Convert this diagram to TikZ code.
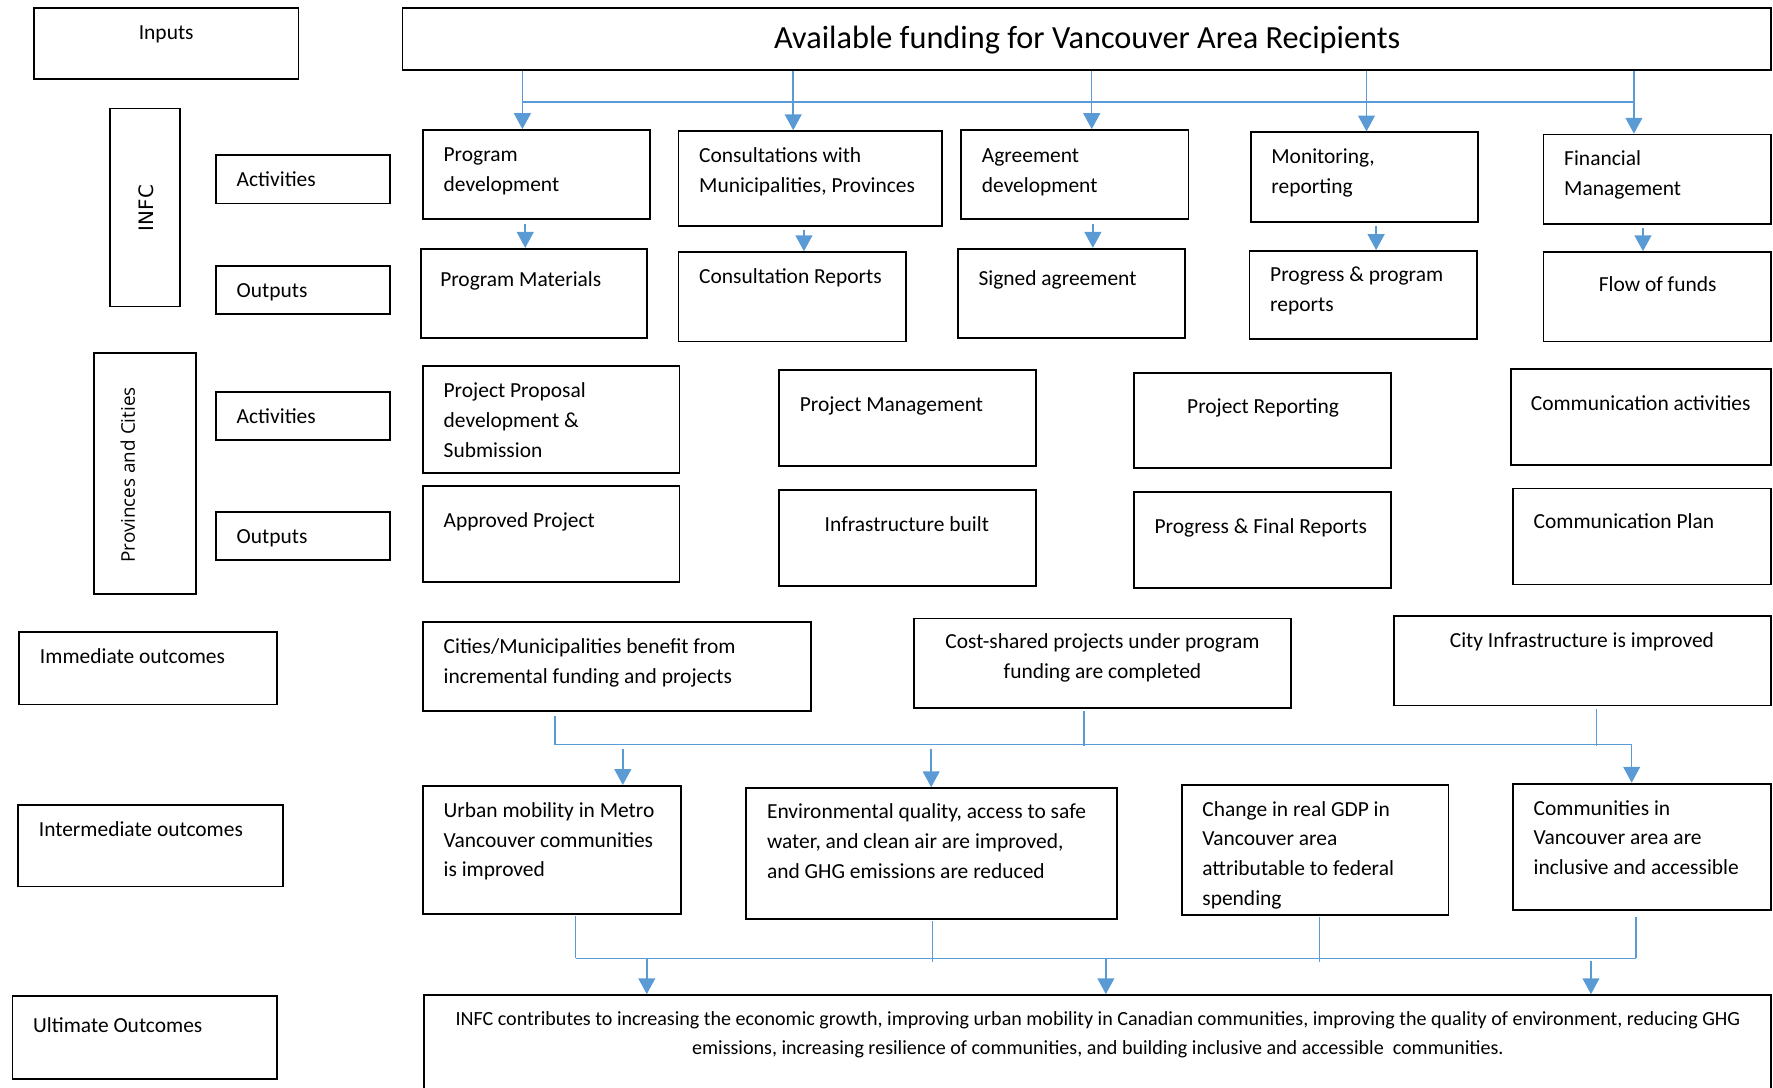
\documentclass[tikz,border=0pt]{standalone}
\usepackage{fontspec}
\setmainfont{Carlito}
\newfontfamily\verdfont{DejaVu Sans}
\newfontfamily\osfont{Open Sans}
\usetikzlibrary{arrows.meta,fit,calc}
\definecolor{blueC}{RGB}{91,155,213}
\begin{document}
\begin{tikzpicture}[x=0.02cm,y=-0.02cm,
  box/.style={draw=black,line width=0.9pt,inner sep=0pt},
  txt/.style={inner sep=0pt,font=\fontsize{10.8}{15}\selectfont,align=left,anchor=north west},
  ctxt/.style={txt,align=center,anchor=north},
  conn/.style={draw=blueC,line width=0.75pt},
  arr/.style={conn,-{Triangle[width=8.5pt,length=8pt]}}]
\useasboundingbox (0,0) rectangle (1568,962);
\newcommand\mybox[3]{\node[box,fit={(#2) (#3)}] (#1) {};}
% left column
\mybox{inp}{30,7}{264,70}
\mybox{infc}{97,96}{159,271}
\mybox{act1}{191,137}{345,180}
\mybox{out1}{191,235}{345,278}
\mybox{prov}{83,312}{173,525}
\mybox{act2}{191,347}{345,389}
\mybox{out2}{191,453}{345,495}
\mybox{imm}{17,559}{245,623}
\mybox{intm}{16,712}{250,784}
\mybox{ulo}{11,881}{245,954}
\node[ctxt] (inpT) at (147,16) {\strut Inputs};
\node[rotate=90,inner sep=0pt,font=\verdfont\fontsize{10}{12}\selectfont] (infcT) at (129,184) {INFC};
\node[txt] (act1T) at (209,146) {\strut Activities};
\node[txt] (out1T) at (209,244) {\strut Outputs};
\node[rotate=90,inner sep=0pt,font=\osfont\fontsize{9.5}{11}\selectfont] (provT) at (113,420) {Provinces and Cities};
\node[txt] (act2T) at (209,356) {\strut Activities};
\node[txt] (out2T) at (209,462) {\strut Outputs};
\node[txt] (immT) at (35,568) {\strut Immediate outcomes};
\node[txt] (intmT) at (34,721) {\strut Intermediate outcomes};
\node[txt] (uloT) at (29,894) {\strut Ultimate Outcomes};
% title
\mybox{title}{356,7}{1566,62}
\node[inner sep=0pt,anchor=base,font=\fontsize{16.25}{19}\selectfont] (titleT) at (961.5,43) {Available funding for Vancouver Area Recipients};
% INFC activities
\mybox{pd}{374,115}{575,194}
\mybox{cons}{600,116}{833,200}
\mybox{agr}{850,115}{1051,194}
\mybox{mon}{1106,117}{1307,196}
\mybox{fin}{1365,119}{1566,198}
\node[txt] (pdT) at (392,124) {\strut Program\\development};
\node[txt] (consT) at (618,125) {\strut Consultations with\\Municipalities, Provinces};
\node[txt] (agrT) at (868,125) {\strut Agreement\\development};
\node[txt] (monT) at (1124,126) {\strut Monitoring,\\reporting};
\node[txt] (finT) at (1383,128) {\strut Financial\\Management};
% INFC outputs
\mybox{pm}{372,220}{572,299}
\mybox{cr}{600,223}{801,302}
\mybox{sa}{847,220}{1048,299}
\mybox{ppr}{1105,222}{1306,300}
\mybox{ff}{1365,223}{1566,302}
\node[txt] (pmT) at (389,235) {\strut Program Materials};
\node[txt] (crT) at (618,232) {\strut Consultation Reports};
\node[txt] (saT) at (865,234) {\strut Signed agreement};
\node[txt] (pprT) at (1123,230) {\strut Progress \& program\\reports};
\node[ctxt] (ffT) at (1466,239) {\strut Flow of funds};
% Provinces activities
\mybox{ppd}{374,324}{601,418}
\mybox{pmg}{689,327}{916,412}
\mybox{prp}{1003,330}{1230,414}
\mybox{ca}{1336,326}{1566,411}
\node[txt] (ppdT) at (392,333) {\strut Project Proposal\\development \&\\Submission};
\node[txt] (pmgT) at (707,345) {\strut Project Management};
\node[ctxt] (prpT) at (1117,347) {\strut Project Reporting};
\node[ctxt] (caT) at (1451,344) {\strut Communication activities};
% Provinces outputs
\mybox{ap}{374,430}{601,515}
\mybox{ib}{689,433}{916,518}
\mybox{pfr}{1003,435}{1230,520}
\mybox{cp}{1338,432}{1566,517}
\node[txt] (apT) at (392,448) {\strut Approved Project};
\node[ctxt] (ibT) at (802,451) {\strut Infrastructure built};
\node[ctxt] (pfrT) at (1115,453) {\strut Progress \& Final Reports};
\node[txt] (cpT) at (1356,449) {\strut Communication Plan};
% Immediate outcomes
\mybox{cit}{374,550}{717,629}
\mybox{cost}{808,547}{1142,626}
\mybox{city}{1233,545}{1566,624}
\node[txt] (citT) at (392,559) {\strut Cities/Municipalities benefit from\\incremental funding and projects};
\node[ctxt] (costT) at (975,555) {\strut Cost-shared projects under program\\funding are completed};
\node[ctxt] (cityT) at (1399,554) {\strut City Infrastructure is improved};
% Intermediate outcomes
\mybox{urb}{374,695}{602,808}
\mybox{env}{660,697}{988,813}
\mybox{gdp}{1045,694}{1281,809}
\mybox{com}{1338,693}{1566,805}
\node[txt] (urbT) at (392,704) {\strut Urban mobility in Metro\\Vancouver communities\\is improved};
\node[txt] (envT) at (678,705) {\strut Environmental quality, access to safe\\water, and clean air are improved,\\and GHG emissions are reduced};
\node[txt] (gdpT) at (1063,703) {\strut Change in real GDP in\\Vancouver area\\attributable to federal\\spending};
\node[txt] (comT) at (1356,702) {\strut Communities in\\Vancouver area are\\inclusive and accessible};
% Ultimate
\mybox{ult}{375,880}{1566,990}
\node[ctxt,font=\fontsize{10.1}{14.8}\selectfont] (ultT) at (971,888) {\strut INFC contributes to increasing the economic growth, improving urban mobility in Canadian communities, improving the quality of environment, reducing GHG\\emissions, increasing resilience of communities, and building inclusive and accessible\ \ communities.};
% --- connectors: title to activities
\coordinate (hA) at (0,90);
\foreach \n/\xx in {pd/462,cons/701.5,agr/965.5,mon/1208.5,fin/1445}{
  \coordinate (xa\n) at (\xx,0);
  \draw[arr] (title.south -| xa\n) -- (\n.north -| xa\n);
}
\draw[conn] (hA -| xapd) -- (hA -| xafin);
% activities to outputs
\foreach \a/\b/\xx in {pd/pm/464.5,cons/cr/711,agr/sa/966.5,mon/ppr/1217,fin/ff/1453}{
  \coordinate (xb\a) at (\xx,0);
  \draw[arr] ($(\a.south -| xb\a)+(0,3)$) -- (\b.north -| xb\a);
}
% immediate to intermediate
\coordinate (hB) at (0,658.5);
\coordinate (xc1) at (491,0);
\coordinate (xc2) at (958.5,0);
\coordinate (xc3) at (1412,0);
\coordinate (xc4) at (1443,0);
\draw[conn] ($(cit.south -| xc1)+(0,3)$) -- (hB -| xc1);
\draw[conn] ($(cost.south -| xc2)+(0,2)$) -- ($(hB -| xc2)+(0,1.5)$);
\draw[conn] ($(city.south -| xc3)+(0,2)$) -- ($(hB -| xc3)+(0,1.5)$);
\draw[conn] (hB -| xc1) -- (hB -| xc4);
\coordinate (xd1) at (550.8,0);
\coordinate (xd2) at (823.5,0);
\draw[arr] ($(hB -| xd1)+(0,4)$) -- (urb.north -| xd1);
\draw[arr] ($(hB -| xd2)+(0,4)$) -- (env.north -| xd2);
\draw[arr] (hB -| xc4) -- (com.north -| xc4);
% intermediate to ultimate
\coordinate (hC) at (0,847.5);
\coordinate (xe1) at (509,0);
\coordinate (xe2) at (824.5,0);
\coordinate (xe3) at (1167,0);
\coordinate (xe4) at (1447,0);
\draw[conn] ($(urb.south -| xe1)+(0,1.5)$) -- (hC -| xe1);
\draw[conn] ($(env.south -| xe2)+(0,1)$) -- ($(hC -| xe2)+(0,3)$);
\draw[conn] ($(gdp.south -| xe3)+(0,1.5)$) -- ($(hC -| xe3)+(0,3)$);
\draw[conn] ($(com.south -| xe4)+(0,5)$) -- (hC -| xe4);
\draw[conn] (hC -| xe1) -- (hC -| xe4);
\coordinate (xf1) at (572,0);
\coordinate (xf2) at (978,0);
\coordinate (xf3) at (1407,0);
\draw[arr] ($(hC -| xf1)+(0,1)$) -- (ult.north -| xf1);
\draw[arr] ($(hC -| xf2)+(0,1)$) -- (ult.north -| xf2);
\draw[arr] ($(hC -| xf3)+(0,2.5)$) -- (ult.north -| xf3);
\end{tikzpicture}
\end{document}
